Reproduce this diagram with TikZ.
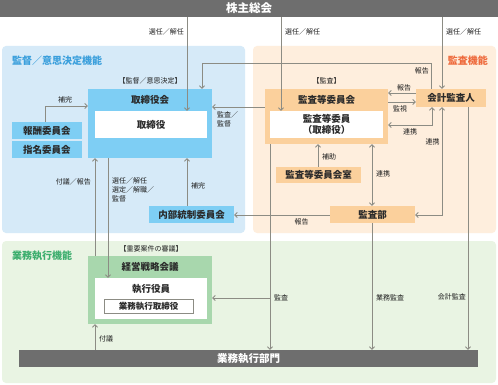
\documentclass[tikz,border=0pt]{standalone}
\usepackage{fontspec}
\setmainfont{Noto Sans CJK JP}
\usetikzlibrary{arrows.meta}
\definecolor{barc}{HTML}{6E6E6E}
\definecolor{bluepanel}{HTML}{D6EAF8}
\definecolor{bluebox}{HTML}{7ECEF4}
\definecolor{orpanel}{HTML}{FEEEDD}
\definecolor{orbox}{HTML}{FBD09C}
\definecolor{grpanel}{HTML}{E9F4E3}
\definecolor{grbox}{HTML}{A8D7AD}
\definecolor{linec}{HTML}{8C8C84}
\definecolor{textc}{HTML}{2A2A2A}
\definecolor{lblc}{HTML}{1E1E1E}
\definecolor{bluetitle}{HTML}{3A9FDC}
\definecolor{ortitle}{HTML}{EE6A3C}
\definecolor{grtitle}{HTML}{3DAE6E}
\begin{document}
\begin{tikzpicture}[x=1pt,y=-1pt,
  lbl/.style={font=\fontsize{7}{9}\selectfont, text=lblc, inner sep=0pt},
  boxbase/.style={draw=none, inner sep=0pt, text=textc, font=\bfseries\fontsize{9.5}{11}\selectfont},
  boxb/.style={boxbase, fill=bluebox},
  boxo/.style={boxbase, fill=orbox},
  boxg/.style={boxbase, fill=grbox},
  boxw/.style={boxbase, fill=white},
  bartitle/.style={boxbase, fill=barc, text=white, font=\bfseries\fontsize{11.5}{13}\selectfont},
  ptitle/.style={anchor=west, inner sep=0pt, font=\bfseries\fontsize{10}{12}\selectfont},
  conn/.style={draw=linec, line width=0.8pt, -{Straight Barb[length=2.5pt,width=5pt]}},
  conn2/.style={draw=linec, line width=0.8pt, {Straight Barb[length=2.5pt,width=5pt]}-{Straight Barb[length=2.5pt,width=5pt]}},
  plain/.style={draw=linec, line width=0.8pt}
]
\useasboundingbox (0,0) rectangle (498,385);
\fill[white] (0,0) rectangle (498,385);

% panels
\fill[bluepanel, rounded corners=4pt] (2,46) rectangle (245,233);
\fill[orpanel, rounded corners=4pt] (253,46) rectangle (496,233);
\fill[grpanel, rounded corners=4pt] (2,241) rectangle (496,383);
\node[ptitle, text=bluetitle] (pt1) at (12,61) {監督／意思決定機能};
\node[ptitle, text=ortitle, anchor=east] (pt2) at (488,61) {監査機能};
\node[ptitle, text=grtitle] (pt3) at (12,256) {業務執行機能};

% top bar
\node[bartitle, minimum width=498, minimum height=17] (sh) at (249,8.5) {株主総会};

% board
\node[boxb, minimum width=124, minimum height=69] (tb) at (150,123.5) {};
\node[boxbase] (tbt) at (150,99.5) {取締役会};
\node[boxw, minimum width=112, minimum height=27] (tbi) at (151,124.5) {取締役};
\node[lbl] (tbl) at (150,81) {【監督／意思決定】};

\node[boxb, minimum width=70, minimum height=17] (hoshu) at (47,130.5) {報酬委員会};
\node[boxb, minimum width=70, minimum height=17] (shimei) at (47,149.5) {指名委員会};
\node[boxb, minimum width=85, minimum height=17] (naibu) at (191.5,214.5) {内部統制委員会};

% audit
\node[boxo, minimum width=123, minimum height=55] (kansa) at (326.5,116.5) {};
\node[boxbase] (kansat) at (326.5,99.5) {監査等委員会};
\node[boxw, minimum width=113, minimum height=27, align=center, font=\bfseries\fontsize{9.5}{11.5}\selectfont] (kansai) at (326.5,124.5) {監査等委員\\（取締役）};
\node[lbl] (kansal) at (326.5,81) {【監査】};
\node[boxo, minimum width=70, minimum height=18] (kaikei) at (451,98) {会計監査人};
\node[boxo, minimum width=85, minimum height=16] (shitsu) at (318.5,175) {監査等委員会室};
\node[boxo, minimum width=85, minimum height=17] (kansabu) at (372.5,214.5) {監査部};

% execution
\node[boxg, minimum width=124, minimum height=68] (keiei) at (150,290) {};
\node[boxbase] (keieit) at (150,266.5) {経営戦略会議};
\node[boxw, minimum width=112, minimum height=41] (keieii) at (151,298.5) {};
\node[boxbase] (shikko) at (151,289) {執行役員};
\node[boxw, draw=linec, line width=0.6pt, minimum width=89, minimum height=14, font=\bfseries\fontsize{8.5}{10}\selectfont] (gtori) at (148.5,306) {業務執行取締役};
\node[lbl] (keieil) at (151,249) {【重要案件の審議】};

\node[bartitle, font=\bfseries\fontsize{10.5}{12}\selectfont, minimum width=459, minimum height=17] (gyomu) at (248.5,358.5) {業務執行部門};

% x coordinates
\coordinate (xa) at (187,0);
\coordinate (xb) at (281,0);
\coordinate (xc) at (442,0);
\coordinate (xd) at (431,0);
\coordinate (xe) at (202,0);
\coordinate (xf) at (45,0);
\coordinate (xg) at (432,0);
\coordinate (xh) at (468,0);
\coordinate (xi) at (372,0);
\coordinate (xj) at (318,0);
\coordinate (xk) at (95,0);
\coordinate (xl) at (108,0);
\coordinate (xm) at (270,0);
\coordinate (ya) at (0,63);
\coordinate (yb) at (0,107);
\coordinate (yc) at (0,106);
\coordinate (yd) at (0,93);
\coordinate (ye) at (0,102);
\coordinate (yf) at (0,125);
\coordinate (yg) at (0,215);
\coordinate (yh) at (0,298);

% shareholders
\draw[conn] (xa |- sh.south) -- (xa |- tbi.north);
\node[lbl, anchor=east] at (184,32) {選任／解任};
\draw[conn] (xb |- sh.south) -- (xb |- kansai.north);
\node[lbl, anchor=west] at (285,32) {選任／解任};
\draw[conn] (xc |- sh.south) -- (xc |- kaikei.north);
\node[lbl, anchor=west] at (446,32) {選任／解任};

% kaikei report to board
\draw[conn] (xd |- kaikei.north) -- (xd |- ya) -- (xe |- ya) -- (xe |- tb.north);
\node[lbl, anchor=east] at (429,71) {報告};

% kansa -> board
\draw[conn] (kansa.west |- yb) -- (tb.east |- yb);
\node[lbl, anchor=west, align=left] at (217,119.5) {監査／\\監督};

% hoshu -> board
\draw[conn] (xf |- hoshu.north) -- (xf |- yc) -- (tb.west |- yc);
\node[lbl] at (65,100) {補完};

% kaikei <-> kansa
\draw[conn] (kaikei.west |- yd) -- (kansa.east |- yd);
\node[lbl] at (404,87.5) {報告};
\draw[conn] (kansa.east |- ye) -- (kaikei.west |- ye);
\node[lbl] at (400,108.5) {監視};
\draw[conn2] (xg |- kaikei.south) -- (xg |- yf) -- (kansa.east |- yf);
\node[lbl] at (410,131.5) {連携};
\draw[conn2] (xc |- kaikei.south) -- (xc |- yg) -- (kansabu.east |- yg);
\node[lbl] at (432.5,142) {連携};
\draw[conn] (xh |- kaikei.south) -- (xh |- gyomu.north);
\node[lbl, anchor=east] at (466,297) {会計監査};

% kansa <-> kansabu
\draw[conn2] (xi |- kansa.south) -- (xi |- kansabu.north);
\node[lbl, anchor=west] at (376,174) {連携};
\draw[conn] (xj |- shitsu.north) -- (xj |- kansa.south);
\node[lbl, anchor=west] at (322,157) {補助};
\draw[conn] (kansabu.west |- yg) -- (naibu.east |- yg);
\node[lbl] at (301.5,221.5) {報告};

% naibu -> board
\draw[conn] (xa |- naibu.north) -- (xa |- tb.south);
\node[lbl, anchor=west] at (191,186) {補完};

% board <-> keiei
\draw[conn] (xk |- keiei.north) -- (xk |- tb.south);
\node[lbl, anchor=east] at (91,182) {付議／報告};
\draw[conn] (xl |- tb.south) -- (xl |- keieii.north);
\node[lbl, anchor=north west, align=left] at (112,177.5) {選任／解任\\選定／解職／\\監督};

% kansa -> gyomu
\draw[conn] (xm |- kansa.south) -- (xm |- gyomu.north);
\draw[conn] (xm |- yh) -- (keiei.east |- yh);
\node[lbl, anchor=west] at (274,298) {監査};
\draw[conn] (xi |- kansabu.south) -- (xi |- gyomu.north);
\node[lbl, anchor=west] at (376,298) {業務監査};

% gyomu -> keiei
\draw[conn] (xk |- gyomu.north) -- (xk |- keiei.south);
\node[lbl, anchor=west] at (99,339) {付議};
\end{tikzpicture}
\end{document}
